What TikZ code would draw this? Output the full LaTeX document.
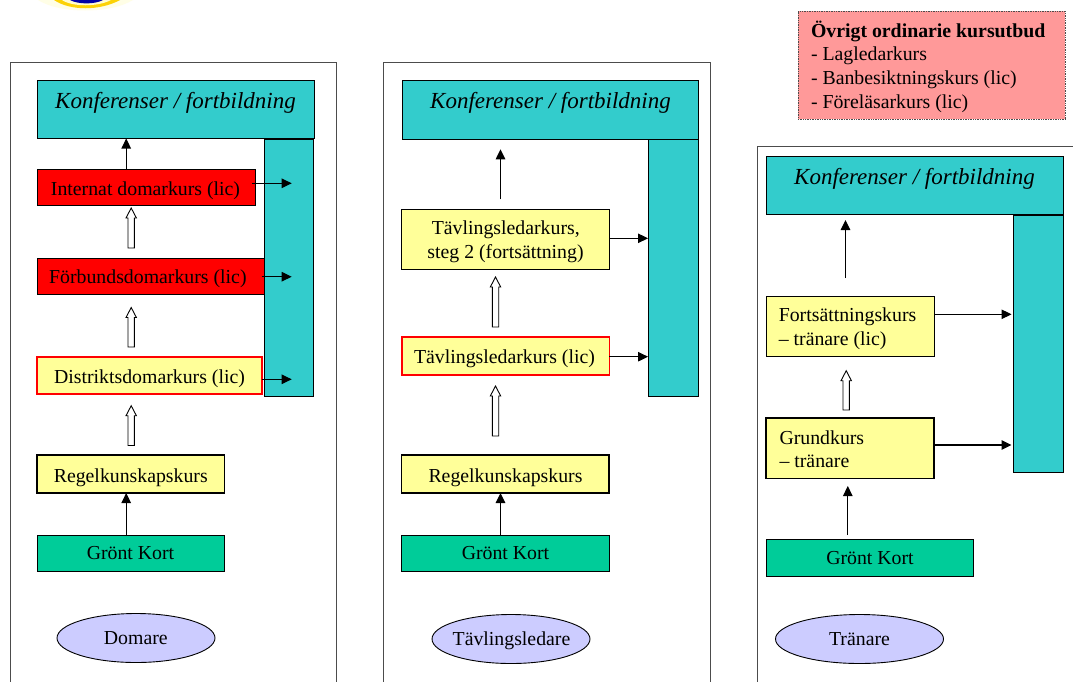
\documentclass[tikz,border=0pt]{standalone}
\usepackage{fontspec}
\setmainfont{Liberation Serif}
\usetikzlibrary{arrows.meta,shapes.geometric}
\definecolor{teal1}{RGB}{51,204,204}
\definecolor{yel}{RGB}{255,255,153}
\definecolor{grn}{RGB}{0,204,153}
\definecolor{lav}{RGB}{204,204,255}
\definecolor{pinkb}{RGB}{255,153,153}
\tikzset{
  x=1pt,y=-1pt,
  every node/.style={font=\fontsize{19.8}{24}\selectfont,inner sep=0pt,outer sep=0pt},
  panel/.style={draw=black!70,line width=1pt,fill=white},
  conf/.style={draw=black,line width=1pt,fill=teal1,anchor=north west},
  box/.style={anchor=north west,draw=black,line width=1pt},
  redbox/.style={box,fill=red},
  yelbox/.style={box,fill=yel},
  yelred/.style={box,fill=yel,draw=red,line width=1.5pt},
  yelthick/.style={box,fill=yel,line width=1.7pt},
  grnbox/.style={box,fill=grn},
  oval/.style={ellipse,draw=black,line width=0.9pt,fill=lav,minimum height=49pt},
  lab/.style={anchor=base},
  labl/.style={anchor=base west},
  conflabel/.style={anchor=base,font=\fontsize{23}{28}\selectfont\itshape},
  solidar/.style={-{Triangle[length=10pt,width=9.5pt]},line width=1.1pt,black},
  hollow/.style={draw=black,fill=white,line width=0.9pt},
}
\newcommand{\boxat}[5]{\node[#1,minimum width=#4pt,minimum height=#5pt] (#2) at (#3) {};}
\newcommand{\hollowup}[3]{\path[hollow] (#1-3.2,#3) -- (#1-3.2,#2+10) -- (#1-5.2,#2+10) -- (#1,#2) -- (#1+5.2,#2+10) -- (#1+3.2,#2+10) -- (#1+3.2,#3) -- cycle;}
\begin{document}
\begin{tikzpicture}
\useasboundingbox (0,0) rectangle (1073,681);
\fill[white] (0,0) rectangle (1073,681);
% logo fragment
\fill[yellow!10] (38,0) .. controls (60,14) and (110,14) .. (133,0) -- cycle;
\fill[yellow!70!orange] (54,0) .. controls (70,11) and (100,11) .. (120,0) -- cycle;
\fill[white!80!yellow] (62,0) .. controls (72,7) and (98,7) .. (111,0) -- cycle;
\fill[blue!65!black] (70,0) .. controls (78,4.5) and (95,4.5) .. (103,0) -- cycle;
% panels
\path[panel] (10,690) -- (10,62) -- (336,62) -- (336,690);
\path[panel] (383,690) -- (383,62) -- (710,62) -- (710,690);
\path[panel] (757,690) -- (757,146) -- (1074,146);

% column 1
\boxat{conf}{c1s}{264,139}{49.5}{257}
\boxat{conf}{c1}{37,80}{277}{58.5}
\node[conflabel] (c1t) at (175.5,108) {Konferenser / fortbildning};
\boxat{redbox}{a1}{37,169}{218}{36.5}
\boxat{redbox}{a2}{37,258}{227}{36.5}
\boxat{yelred}{a3}{37,357}{225}{37}
\boxat{yelthick}{a4}{37,455}{187.5}{38}
\boxat{grnbox}{a5}{37,535}{187.5}{36.5}
\node[oval,minimum width=158pt] (o1) at (136,638) {};
\node[lab] (a1t) at (145.5,195.7) {Internat domarkurs (lic)};
\node[lab] (a2t) at (147.9,283.5) {Förbundsdomarkurs (lic)};
\node[lab] (a3t) at (149.5,383.2) {Distriktsdomarkurs (lic)};
\node[lab] (a4t) at (130.8,482.2) {Regelkunskapskurs};
\node[lab] (a5t) at (130.5,559.5) {Grönt Kort};
\node[lab] (o1t) at (135.8,644.8) {Domare};
\draw[solidar] (252,183.3) -- (291.7,183.3);
\draw[solidar] (261.7,276.7) -- (291.7,276.7);
\draw[solidar] (261.7,379.3) -- (291.7,379.3);
\draw[solidar] (126.2,0 |- a1.north) -- (126.2,0 |- c1.south);
\draw[solidar] (126.2,0 |- a5.north) -- (126.2,0 |- a4.south);
\hollowup{131.2}{208}{248}
\hollowup{131.2}{307.5}{347}
\hollowup{131.2}{405.7}{445.5}

% column 2
\boxat{conf}{c2s}{648,139}{50}{257}
\boxat{conf}{c2}{402,80}{296}{59}
\node[conflabel] (c2t) at (550.5,108.5) {Konferenser / fortbildning};
\boxat{yelbox}{b1}{401.5,209}{207.5}{60}
\boxat{yelred}{b2}{401.8,337}{207.5}{38}
\boxat{yelthick}{b3}{401.5,455}{207.5}{38}
\boxat{grnbox}{b4}{401.5,535}{207.5}{36.5}
\node[oval,minimum width=158pt] (o2) at (511,639) {};
\node[lab] (b1a) at (505.8,234.5) {Tävlingsledarkurs,};
\node[lab] (b1b) at (505.5,258) {steg 2 (fortsättning)};
\node[lab] (b2t) at (504.5,363.2) {Tävlingsledarkurs (lic)};
\node[lab] (b3t) at (505.5,482.2) {Regelkunskapskurs};
\node[lab] (b4t) at (505.5,559.5) {Grönt Kort};
\node[lab] (o2t) at (511.5,645.5) {Tävlingsledare};
\draw[solidar] (b1.east |- 0,238.3) -- (c2s.west |- 0,238.3);
\draw[solidar] (b2.east |- 0,356.7) -- (c2s.west |- 0,356.7);
\draw[solidar] (500.5,199.3) -- (500.5,149.3);
\draw[solidar] (500.5,0 |- b4.north) -- (500.5,0 |- b3.south);
\hollowup{495.5}{277}{327}
\hollowup{495.5}{386}{436}

% column 3
\boxat{conf}{c3s}{1013,215}{50}{257}
\boxat{conf}{c3}{766,156}{297}{58.5}
\node[conflabel] (c3t) at (914.5,184.8) {Konferenser / fortbildning};
\boxat{yelbox}{d1}{766,296}{168}{60}
\boxat{yelthick}{d2}{766,418}{168}{60.5}
\boxat{grnbox}{d3}{766,539}{207.5}{37}
\node[oval,minimum width=168pt] (o3) at (859.5,639) {};
\node[labl] (d1a) at (778.8,321.5) {Fortsättningskurs};
\node[labl] (d1b) at (778.8,345.5) {– tränare (lic)};
\node[labl] (d2a) at (779.5,444.2) {Grundkurs};
\node[labl] (d2b) at (779.5,467.5) {– tränare};
\node[lab] (d3t) at (870,564.5) {Grönt Kort};
\node[lab] (o3t) at (859.5,645.5) {Tränare};
\draw[solidar] (d1.east |- 0,314.3) -- (1011.5,314.3);
\draw[solidar] (d2.east |- 0,445) -- (1011.5,445);
\draw[solidar] (845.5,278) -- (845.5,220);
\draw[solidar] (847.8,535) -- (847.8,486);
\hollowup{846.2}{370.7}{410}

% top-right note
\node[anchor=north west,draw=black!70,densely dotted,line width=0.7pt,fill=pinkb,minimum width=267pt,minimum height=108pt] (n) at (798,11) {};
\node[labl] (n1) at (811,37) {\textbf{Övrigt ordinarie kursutbud}};
\node[labl] (n2) at (811,60.5) {- Lagledarkurs};
\node[labl] (n3) at (811,84.5) {- Banbesiktningskurs (lic)};
\node[labl] (n4) at (811,108) {- Föreläsarkurs (lic)};
\end{tikzpicture}
\end{document}
